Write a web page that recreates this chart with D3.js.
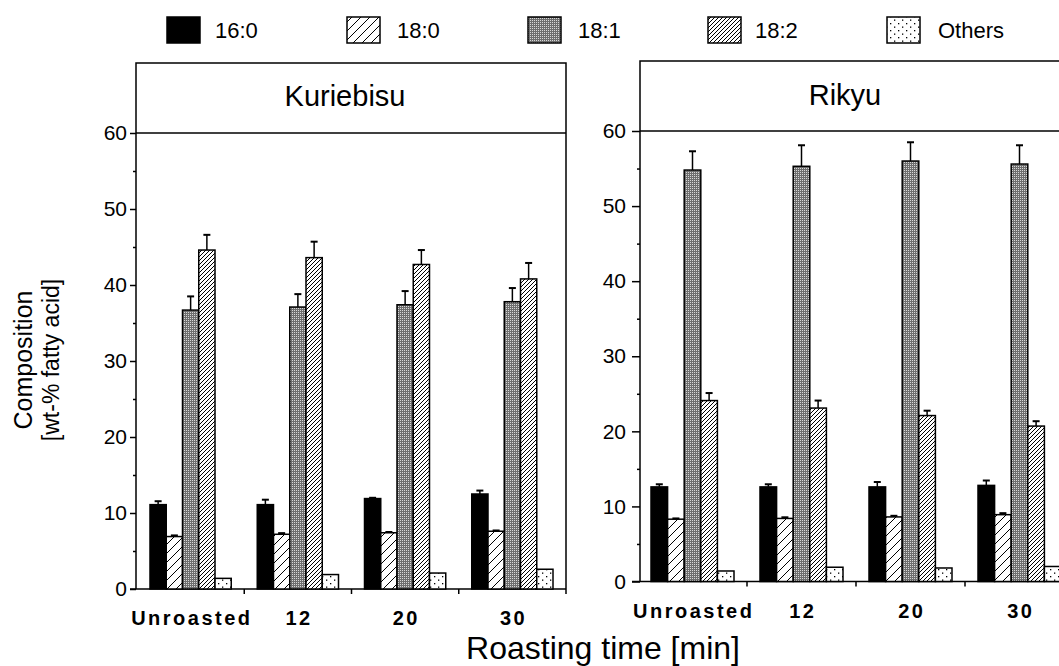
<!DOCTYPE html>
<html><head><meta charset="utf-8">
<script src="https://cdn.jsdelivr.net/npm/d3@7"></script>
<style>
html,body{margin:0;padding:0;background:#fff;}
text{font-family:"Liberation Sans",Arial,sans-serif;fill:#000;}
</style></head>
<body>
<script>
const categories = ["Unroasted", "12", "20", "30"];
const series = ["16:0", "18:0", "18:1", "18:2", "Others"];
const yTicks = [0, 10, 20, 30, 40, 50, 60];
const yMinorTicks = [5, 15, 25, 35, 45, 55];
const panelTitles = ["Kuriebisu", "Rikyu"];
// rows = series, columns = categories
const kuriebisuMean = [
  [11.1, 11.1, 11.9, 12.5],
  [6.9, 7.2, 7.4, 7.6],
  [36.7, 37.1, 37.4, 37.8],
  [44.6, 43.6, 42.7, 40.8],
  [1.4, 1.9, 2.1, 2.6]
];
const kuriebisuErr = [
  [0.45, 0.65, 0.1, 0.45],
  [0.15, 0.15, 0.1, 0.1],
  [1.8, 1.7, 1.8, 1.8],
  [2.0, 2.1, 1.9, 2.1],
  [0, 0, 0, 0]
];
const rikyuMean = [
  [12.6, 12.6, 12.6, 12.8],
  [8.3, 8.4, 8.6, 8.9],
  [54.8, 55.3, 56.0, 55.6],
  [24.1, 23.1, 22.1, 20.7],
  [1.4, 1.9, 1.8, 2.0]
];
const rikyuErr = [
  [0.35, 0.35, 0.65, 0.65],
  [0.1, 0.15, 0.15, 0.2],
  [2.5, 2.8, 2.5, 2.5],
  [1.0, 1.0, 0.65, 0.65],
  [0, 0, 0, 0]
];

const W = 1059, H = 666;
const svg = d3.select("body").append("svg").attr("width", W).attr("height", H)
  .style("display", "block");
svg.append("rect").attr("width", W).attr("height", H).attr("fill", "#fff");

// patterns
const defs = svg.append("defs");
const fills = ["#000", "url(#p180)", "url(#p181)", "url(#p182)", "url(#pOth)"];
{
  let p = defs.append("pattern").attr("id", "p180").attr("patternUnits", "userSpaceOnUse")
    .attr("width", 9).attr("height", 9);
  p.append("rect").attr("width", 9).attr("height", 9).attr("fill", "#fff");
  p.append("path").attr("d", "M0,9L9,0M-3,3L3,-3M6,12L12,6").attr("stroke", "#000").attr("stroke-width", 1);
  p = defs.append("pattern").attr("id", "p182").attr("patternUnits", "userSpaceOnUse")
    .attr("width", 4).attr("height", 4);
  p.append("rect").attr("width", 4).attr("height", 4).attr("fill", "#fff");
  p.append("path").attr("d", "M0,4L4,0M-1,1L1,-1M3,5L5,3").attr("stroke", "#000").attr("stroke-width", 1);
  p = defs.append("pattern").attr("id", "p181").attr("patternUnits", "userSpaceOnUse")
    .attr("width", 2).attr("height", 2);
  p.append("rect").attr("width", 2).attr("height", 2).attr("fill", "#6e6e6e");
  p.append("rect").attr("width", 1).attr("height", 1).attr("fill", "#d8d8d8").attr("shape-rendering", "crispEdges");
  p = defs.append("pattern").attr("id", "pOth").attr("patternUnits", "userSpaceOnUse")
    .attr("width", 8).attr("height", 7);
  p.append("rect").attr("width", 8).attr("height", 7).attr("fill", "#fff");
  p.append("rect").attr("x", 2).attr("y", 2).attr("width", 1.3).attr("height", 1.3).attr("fill", "#000");
  p.append("rect").attr("x", 6).attr("y", 5.5).attr("width", 1.3).attr("height", 1.3).attr("fill", "#000");
}

function drawPanel(cfg, mean, err, title) {
  const g = svg.append("g");
  const y = d3.scaleLinear().domain([0, 60]).range([cfg.y0, cfg.y60]);
  const x = d3.scaleBand().domain(categories).range([cfg.bx0, cfg.bx1]).paddingInner(0).paddingOuter(0);
  const xs = d3.scaleBand().domain(series).range([13, x.bandwidth() - 13]).paddingInner(0);

  // title box
  g.append("path").attr("fill", "none").attr("stroke", "#000").attr("stroke-width", 1.5)
    .attr("d", `M${cfg.ax},${cfg.y0}V${cfg.yTop}H${cfg.x1}V${cfg.y0}`);
  g.append("line").attr("x1", cfg.ax).attr("x2", cfg.x1).attr("y1", y(60)).attr("y2", y(60))
    .attr("stroke", "#000").attr("stroke-width", 1.5);
  g.append("text").attr("x", (cfg.ax + cfg.x1) / 2 + cfg.titleDx).attr("y", cfg.titleY)
    .attr("text-anchor", "middle").style("font-size", "29px").text(title);

  // y axis
  const ya = g.append("g").attr("transform", `translate(${cfg.ax},0)`)
    .call(d3.axisLeft(y).tickValues(yTicks).tickSize(cfg.tick).tickPadding(cfg.tickPad).tickFormat(d3.format("d")));
  ya.select(".domain").remove();
  ya.selectAll("line").attr("stroke-width", 1.5);
  ya.selectAll("text").style("font-size", "21px").style("font-family", "Liberation Sans");
  const ym = g.append("g").attr("transform", `translate(${cfg.ax},0)`)
    .call(d3.axisLeft(y).tickValues(yMinorTicks).tickSize(3).tickFormat(""));
  ym.select(".domain").remove();
  ym.selectAll("line").attr("stroke-width", 1.5);

  // x axis
  g.append("line").attr("x1", cfg.ax - cfg.tick).attr("x2", cfg.x1 + (cfg.clip ? 20 : 0)).attr("y1", cfg.y0).attr("y2", cfg.y0)
    .attr("stroke", "#000").attr("stroke-width", 1.5);
  g.selectAll(".xt").data(categories).enter().append("line")
    .attr("x1", d => x(d) + x.bandwidth()).attr("x2", d => x(d) + x.bandwidth())
    .attr("y1", cfg.y0).attr("y2", cfg.y0 + 5).attr("stroke", "#000").attr("stroke-width", 1.5);
  const xa = g.append("g").attr("transform", `translate(0,${cfg.y0})`)
    .call(d3.axisBottom(x).tickSize(0).tickPadding(cfg.labelPad));
  xa.select(".domain").remove();
  xa.selectAll("text").style("font-size", "20px").style("font-weight", "bold")
    .style("font-family", "Liberation Sans").style("letter-spacing", "2.5px").attr("dx", "1.25px");

  // bars
  series.forEach((s, si) => {
    const rows = categories.map((c, ci) => ({c, v: mean[si][ci], e: err[si][ci]}));
    const bg = g.append("g");
    bg.selectAll("rect").data(rows).enter().append("rect")
      .attr("x", d => x(d.c) + xs(s)).attr("width", xs.bandwidth())
      .attr("y", d => y(d.v)).attr("height", d => y(0) - y(d.v))
      .attr("fill", fills[si]).attr("stroke", "#000").attr("stroke-width", 1.5);
    const eb = rows.filter(d => d.e > 0);
    bg.selectAll(".ev").data(eb).enter().append("line")
      .attr("x1", d => x(d.c) + xs(s) + xs.bandwidth() / 2).attr("x2", d => x(d.c) + xs(s) + xs.bandwidth() / 2)
      .attr("y1", d => y(d.v)).attr("y2", d => y(d.v + d.e)).attr("stroke", "#000").attr("stroke-width", 1.5);
    bg.selectAll(".ec").data(eb).enter().append("line")
      .attr("x1", d => x(d.c) + xs(s) + xs.bandwidth() / 2 - 3.5).attr("x2", d => x(d.c) + xs(s) + xs.bandwidth() / 2 + 3.5)
      .attr("y1", d => y(d.v + d.e)).attr("y2", d => y(d.v + d.e)).attr("stroke", "#000").attr("stroke-width", 2);
  });
}

drawPanel({ax: 136, bx0: 137, bx1: 566, x1: 566, yTop: 63, y0: 589, y60: 133, labelPad: 22, titleDx: -6, titleY: 106,
  tick: 6, tickPad: 3}, kuriebisuMean, kuriebisuErr, panelTitles[0]);
drawPanel({ax: 640, bx0: 638, bx1: 1074, x1: 1074, yTop: 61, y0: 581.5, y60: 131, labelPad: 22, titleDx: -12, titleY: 105,
  tick: 8, tickPad: 6, clip: true}, rikyuMean, rikyuErr, panelTitles[1]);

// legend
const legX = [167, 347, 528, 708, 887];
const legTextX = [215, 397, 578, 755, 938];
const lg = svg.append("g");
series.forEach((s, i) => {
  lg.append("rect").attr("x", legX[i]).attr("y", 17).attr("width", 33).attr("height", 26)
    .attr("fill", fills[i]).attr("stroke", "#000").attr("stroke-width", 1.5);
  lg.append("text").attr("x", legTextX[i]).attr("y", 38).style("font-size", "22px").text(s);
});

// axis titles
svg.append("text").attr("transform", "translate(32,360) rotate(-90)").attr("text-anchor", "middle")
  .style("font-size", "25px").text("Composition");
svg.append("text").attr("transform", "translate(59,360) rotate(-90)").attr("text-anchor", "middle")
  .style("font-size", "23px").text("[wt-% fatty acid]");
svg.append("text").attr("x", 603).attr("y", 659).attr("text-anchor", "middle")
  .style("font-size", "32px").text("Roasting time [min]");
</script>
</body></html>
